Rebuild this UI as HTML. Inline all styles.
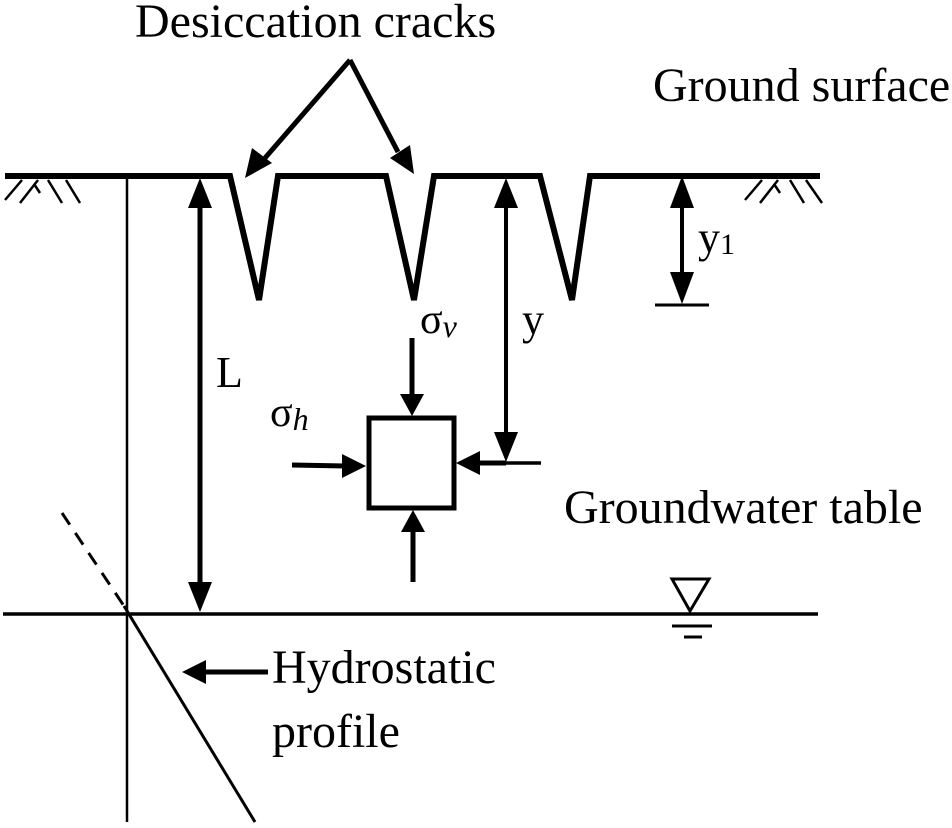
<!DOCTYPE html>
<html><head><style>
body{margin:0;background:#fff;}
svg{display:block;}
text{font-family:"Liberation Serif",serif;fill:#000;}
</style></head><body>
<svg width="952" height="828" viewBox="0 0 952 828">
<g stroke="#000" fill="none" stroke-linecap="butt">
<polyline points="5,176 230,176 259,300 278,176 386,176 414,300 434,176 540,176 572,300 590,176 820,176" stroke-width="6" stroke-linejoin="miter"/>
<g stroke-width="2.5">
<line x1="5" y1="200" x2="22" y2="180"/><line x1="20" y1="203" x2="38" y2="180"/><line x1="34" y1="184" x2="40" y2="193"/><line x1="48" y1="180" x2="62" y2="203"/><line x1="66" y1="180" x2="80" y2="203"/>
<line x1="745" y1="200" x2="762" y2="180"/><line x1="760" y1="203" x2="778" y2="180"/><line x1="774" y1="184" x2="780" y2="193"/><line x1="790" y1="180" x2="804" y2="203"/><line x1="806" y1="180" x2="822" y2="203"/>
</g>
<line x1="127" y1="178" x2="127" y2="822" stroke-width="2.5"/>
<line x1="3" y1="614" x2="818" y2="614" stroke-width="3.5"/>
<line x1="672" y1="626" x2="712" y2="626" stroke-width="3"/>
<line x1="684" y1="637" x2="702" y2="637" stroke-width="3"/>
<polygon points="672,579 709,579 690,611" stroke-width="3"/>
<line x1="62" y1="513" x2="124" y2="606" stroke-width="3" stroke-dasharray="14,10"/>
<line x1="124" y1="606" x2="255" y2="822" stroke-width="3"/>
<line x1="200" y1="200" x2="200" y2="590" stroke-width="5"/>
<line x1="506" y1="200" x2="506" y2="440" stroke-width="4"/>
<line x1="480" y1="463" x2="541" y2="463" stroke-width="3.5"/>
<line x1="682" y1="200" x2="682" y2="280" stroke-width="4"/>
<line x1="655" y1="305" x2="709" y2="305" stroke-width="3"/>
<rect x="369" y="418" width="85" height="90" stroke-width="5"/>
<line x1="412" y1="338" x2="412" y2="398" stroke-width="5"/>
<line x1="413" y1="582" x2="413" y2="530" stroke-width="5"/>
<line x1="292" y1="465" x2="345" y2="466" stroke-width="5"/>
<line x1="506" y1="463" x2="478" y2="463" stroke-width="5"/>
<line x1="350" y1="60" x2="265" y2="158" stroke-width="5"/>
<line x1="350" y1="60" x2="398" y2="152" stroke-width="5"/>
<line x1="268" y1="672" x2="200" y2="672" stroke-width="5"/>
</g>
<g fill="#000">
<polygon points="200,178 188,208 212,208"/>
<polygon points="200,612 188,582 212,582"/>
<polygon points="506,178 494,208 518,208"/>
<polygon points="506,462 494,432 518,432"/>
<polygon points="682,176 670,208 694,208"/>
<polygon points="682,304 670,272 694,272"/>
<polygon points="412,416 400,394 424,394"/>
<polygon points="413,510 401,532 425,532"/>
<polygon points="366,466 342,454 342,478"/>
<polygon points="456,463 480,451 480,475"/>
<polygon points="245,178 252,148 272,163"/>
<polygon points="414,174 390,158 410,145"/>
<polygon points="182,672 206,660 206,684"/>
</g>
<g font-size="48">
<text x="135" y="37">Desiccation cracks</text>
<text x="653" y="101">Ground surface</text>
<text x="564" y="523">Groundwater table</text>
<text x="272" y="683">Hydrostatic</text>
<text x="272" y="747">profile</text>
<text x="216" y="387" font-size="44">L</text>
<text x="522" y="334" font-size="44">y</text>
<text x="698" y="252" font-size="44">y<tspan font-size="30" dy="2">1</tspan></text>
<text x="420" y="333" font-size="42">σ<tspan font-style="italic" font-size="32" dy="4">v</tspan></text>
<text x="270" y="426" font-size="42">σ<tspan font-style="italic" font-size="32" dy="4">h</tspan></text>
</g>
</svg>
</body></html>
